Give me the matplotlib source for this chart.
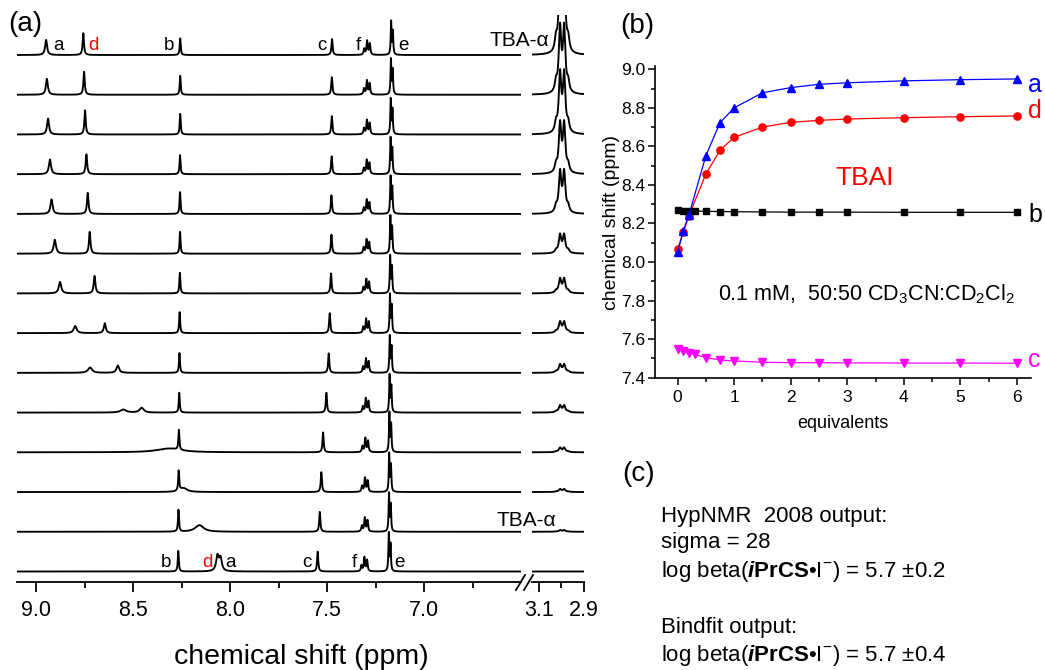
import numpy as np
import matplotlib
matplotlib.use('Agg')
import matplotlib.pyplot as plt
from matplotlib.lines import Line2D

plt.rcParams['font.family'] = ['Liberation Sans', 'DejaVu Sans']
plt.rcParams['mathtext.fontset'] = 'custom'
plt.rcParams['mathtext.rm'] = 'Liberation Sans'
plt.rcParams['mathtext.it'] = 'Liberation Sans:italic'
plt.rcParams['mathtext.bf'] = 'Liberation Sans:bold'
plt.rcParams['mathtext.bfit'] = 'Liberation Sans:bold:italic'
plt.rcParams['mathtext.default'] = 'regular'

# ------------------------------------------------------------------ data
# titration points (panel b)
equivalents = [0, 0.1, 0.2, 0.3, 0.5, 0.75, 1, 1.5, 2, 2.5, 3, 4, 5, 6]
eq_ad = [0, 0.1, 0.2, 0.5, 0.75, 1, 1.5, 2, 2.5, 3, 4, 5, 6]
shift_a = [8.050, 8.163, 8.244, 8.552, 8.723, 8.800, 8.878, 8.905, 8.922, 8.930, 8.940, 8.946, 8.950]
shift_d = [8.066, 8.155, 8.240, 8.457, 8.580, 8.647, 8.700, 8.725, 8.735, 8.742, 8.749, 8.754, 8.758]
shift_b = [8.268, 8.267, 8.266, 8.265, 8.263, 8.262, 8.261, 8.260, 8.259, 8.259, 8.259, 8.258, 8.258, 8.258]
shift_c = [7.549, 7.538, 7.530, 7.521, 7.504, 7.492, 7.487, 7.480, 7.478, 7.478, 7.477, 7.476, 7.476, 7.475]

# stacked spectra (panel a), one entry per trace, bottom trace = 0 equiv.
spec_a_ppm = [8.050, 8.163, 8.244, 8.330, 8.552, 8.723, 8.800, 8.878, 8.905, 8.922, 8.930, 8.940, 8.946, 8.950]
spec_d_ppm = [8.066, 8.155, 8.240, 8.300, 8.457, 8.580, 8.647, 8.700, 8.725, 8.735, 8.742, 8.749, 8.754, 8.758]
spec_a_int = [0.32, 0.085, 0.05, 0.05, 0.075, 0.135, 0.18, 0.29, 0.35, 0.365, 0.37, 0.40, 0.40, 0.38]
spec_d_int = [0.38, 0.085, 0.05, 0.05, 0.12, 0.185, 0.25, 0.44, 0.55, 0.53, 0.50, 0.61, 0.58, 0.55]
spec_a_lw = [0.016, 0.050, 0.045, 0.140, 0.035, 0.025, 0.018, 0.015, 0.014, 0.013, 0.013, 0.012, 0.012, 0.012]
spec_d_lw = [0.016, 0.050, 0.045, 0.140, 0.025, 0.016, 0.012, 0.010, 0.009, 0.009, 0.009, 0.008, 0.008, 0.008]
spec_b_int = [0.52, 0.55, 0.50, 0.50, 0.50, 0.50, 0.53, 0.52, 0.55, 0.55, 0.48, 0.52, 0.48, 0.42]
spec_c_int = [0.50, 0.50, 0.50, 0.50, 0.50, 0.49, 0.50, 0.50, 0.48, 0.47, 0.45, 0.46, 0.44, 0.40]
spec_f_ppm = [7.308, 7.306, 7.305, 7.303, 7.301, 7.300, 7.299, 7.298, 7.297, 7.296, 7.296, 7.295, 7.295, 7.294]
spec_e_ppm = [7.182, 7.181, 7.180, 7.179, 7.178, 7.177, 7.176, 7.175, 7.174, 7.173, 7.173, 7.172, 7.171, 7.170]
spec_e_int = [0.95, 0.95, 0.95, 0.98, 0.93, 0.91, 0.96, 0.93, 0.93, 0.93, 0.90, 0.88, 0.88, 0.83]
f_offsets = [0.015, 0.0, -0.014]
f_int = [0.15, 0.35, 0.28]
spec_tba_ppm = 2.997
spec_tba_int = [0.0, 0.04, 0.07, 0.11, 0.17, 0.20, 0.27, 0.35, 0.45, 1.0, 1.2, 1.45, 1.6, 2.0]

xticks_main = [9.0, 8.5, 8.0, 7.5, 7.0]
xticks_main_minor = [8.75, 8.25, 7.75, 7.25, 6.75]
xticks_break = [3.1, 2.9]
xticks_break_minor = [3.0]


def lorentz(x, x0, h, fwhm):
    return h / (1.0 + ((x - x0) / (fwhm / 2.0)) ** 2)


W, H = 1045, 670
fig = plt.figure(figsize=(W / 100, H / 100), dpi=100)


def fx(px):
    return px / W


def fy(py):
    return 1 - py / H


# ------------------------------------------------------------------ panel (a)
ax_bot_px, ax_top_px = 582.0, 15.0
base0_px, spacing_px = 571.5, 39.73
ylo = -(ax_bot_px - base0_px) / spacing_px
yhi = (base0_px - ax_top_px) / spacing_px

axL = fig.add_axes([fx(17), fy(ax_bot_px), fx(521 - 17), (ax_bot_px - ax_top_px) / H])
axR = fig.add_axes([fx(532), fy(ax_bot_px), fx(584 - 532), (ax_bot_px - ax_top_px) / H])

xl = np.linspace(9.1, 6.5, 8000)
xr = np.linspace(3.13, 2.9, 1200)
for i in range(len(equivalents)):
    y = np.zeros_like(xl)
    y += lorentz(xl, spec_a_ppm[i], spec_a_int[i], spec_a_lw[i])
    y += lorentz(xl, spec_d_ppm[i], spec_d_int[i], spec_d_lw[i])
    y += lorentz(xl, shift_b[i], spec_b_int[i], 0.006)
    y += lorentz(xl, shift_c[i], spec_c_int[i], 0.007)
    for off, hh in zip(f_offsets, f_int):
        y += lorentz(xl, spec_f_ppm[i] + off, hh, 0.007)
    y += lorentz(xl, spec_e_ppm[i], spec_e_int[i], 0.005)
    y += lorentz(xl, spec_e_ppm[i] - 0.009, 0.7 * spec_e_int[i], 0.005)
    axL.plot(xl, i + y, color='black', lw=1.35)

    yr = np.zeros_like(xr)
    h = spec_tba_int[i]
    yr += lorentz(xr, spec_tba_ppm + 0.009, h, 0.013)
    yr += lorentz(xr, spec_tba_ppm - 0.009, h, 0.013)
    yr += lorentz(xr, spec_tba_ppm + 0.027, 0.15 * h, 0.012)
    yr += lorentz(xr, spec_tba_ppm - 0.027, 0.15 * h, 0.012)
    axR.plot(xr, i + yr, color='black', lw=1.35)

for ax, lim, maj, mnr in [(axL, (9.1, 6.5), xticks_main, xticks_main_minor),
                          (axR, (3.13, 2.9), xticks_break, xticks_break_minor)]:
    ax.set_xlim(*lim)
    ax.set_ylim(ylo, yhi)
    ax.set_xticks(maj)
    ax.set_xticks(mnr, minor=True)
    ax.xaxis.set_major_formatter('{x:.1f}')
    ax.set_yticks([])
    for s in ['left', 'right', 'top']:
        ax.spines[s].set_visible(False)
    ax.spines['bottom'].set_linewidth(1.3)
    ax.tick_params(axis='x', which='major', direction='out', length=7, width=1.3,
                   labelsize=15.5, pad=6)
    ax.tick_params(axis='x', which='minor', direction='out', length=4, width=1.3)
    ax.patch.set_alpha(0)

# axis break marks
for x0 in (516, 524):
    fig.add_artist(Line2D([fx(x0), fx(x0 + 9)], [fy(590), fy(575)], color='black', lw=1.3))

# peak labels
lab_top = 13.126
lab_bot = 0.12
for txt, x, col in [('a', 8.885, 'black'), ('d', 8.708, 'red'), ('b', 8.316, 'black'),
                    ('c', 7.529, 'black'), ('f', 7.338, 'black'), ('e', 7.108, 'black')]:
    axL.text(x, lab_top, txt, color=col, fontsize=13.5, ha='center', va='baseline')
for txt, x, col in [('b', 8.33, 'black'), ('d', 8.119, 'red'), ('a', 8.0, 'black'),
                    ('c', 7.605, 'black'), ('f', 7.357, 'black'), ('e', 7.129, 'black')]:
    axL.text(x, lab_bot, txt, color=col, fontsize=13.5, ha='center', va='baseline')

fig.text(fx(519), fy(40), 'TBA-α', fontsize=15, ha='center', va='center')
fig.text(fx(526), fy(521), 'TBA-α', fontsize=15, ha='center', va='center')
fig.text(fx(301), fy(657), 'chemical shift (ppm)', fontsize=20.5, ha='center', va='center')

# panel letters
fig.text(fx(8), fy(24), '(a)', fontsize=20, ha='left', va='center')
fig.text(fx(620), fy(26), '(b)', fontsize=20, ha='left', va='center')
fig.text(fx(622), fy(474), '(c)', fontsize=20, ha='left', va='center')

# ------------------------------------------------------------------ panel (b)
b_left, b_right, b_bot, b_top = 655, 1031, 377.7, 66.4
axB = fig.add_axes([fx(b_left), fy(b_bot), fx(b_right - b_left), (b_bot - b_top) / H])
axB.set_xlim(-0.4, 6.25)
axB.set_ylim(7.4, 9.015)
axB.plot(eq_ad, shift_a, color='blue', lw=0.9, marker='^', ms=5.6, zorder=3)
axB.plot(eq_ad, shift_d, color='red', lw=0.9, marker='o', ms=5.2, zorder=2)
axB.plot(equivalents, shift_b, color='black', lw=0.9, marker='s', ms=4.3, zorder=2)
axB.plot(equivalents, shift_c, color='magenta', lw=0.9, marker='v', ms=5.6, zorder=2)

axB.set_yticks(np.round(np.arange(7.4, 9.01, 0.2), 1))
axB.set_yticks(np.round(np.arange(7.5, 9.0, 0.2), 1), minor=True)
axB.set_xticks(range(0, 7))
axB.set_xticks([0.5, 1.5, 2.5, 3.5, 4.5, 5.5], minor=True)
axB.yaxis.set_major_formatter('{x:.1f}')
for s in ['right', 'top']:
    axB.spines[s].set_visible(False)
for s in ['left', 'bottom']:
    axB.spines[s].set_linewidth(1.2)
axB.tick_params(which='major', direction='out', length=5, width=1.1, labelsize=12.5)
axB.tick_params(which='minor', direction='out', length=3, width=1.1)
axB.tick_params(axis='y', pad=2)
axB.tick_params(axis='x', pad=4)
axB.set_xlabel('equivalents', fontsize=13)
axB.xaxis.set_label_coords(0.5, -(423 - b_bot) / (b_bot - b_top), transform=axB.transAxes)
axB.set_ylabel('chemical shift (ppm)', fontsize=14, va='center')
axB.yaxis.set_label_coords(-(b_left - 612) / (b_right - b_left), 0.5)
axB.xaxis.label.set_va('center')
axB.patch.set_alpha(0)

axB.text(6.2, 8.882, 'a', color='blue', fontsize=18, ha='left', va='baseline', clip_on=False)
axB.text(6.2, 8.748, 'd', color='red', fontsize=18, ha='left', va='baseline', clip_on=False)
axB.text(6.2, 8.208, 'b', color='black', fontsize=18, ha='left', va='baseline', clip_on=False)
axB.text(6.2, 7.456, 'c', color='magenta', fontsize=18, ha='left', va='baseline', clip_on=False)
axB.text(3.315, 8.40, 'TBAI', color='red', fontsize=19, ha='center', va='baseline')
axB.text(0.713, 7.80, r'0.1 mM,  50:50 CD$_3$CN:CD$_2$Cl$_2$', fontsize=15.5,
         ha='left', va='baseline')

# ------------------------------------------------------------------ panel (c)
cx = fx(660.7)
lines_c = [
    ('HypNMR  2008 output:', 521.7),
    ('sigma = 28', 548.3),
    (r'log beta($\mathbfit{i}\mathbf{PrCS}$•I$^{-}$) = 5.7 ±0.2', 577.3),
    ('Bindfit output:', 632.7),
    (r'log beta($\mathbfit{i}\mathbf{PrCS}$•I$^{-}$) = 5.7 ±0.4', 660.7),
]
for txt, py in lines_c:
    fig.text(cx, fy(py), txt, fontsize=16, ha='left', va='baseline')

fig.savefig('out.png', dpi=100)
